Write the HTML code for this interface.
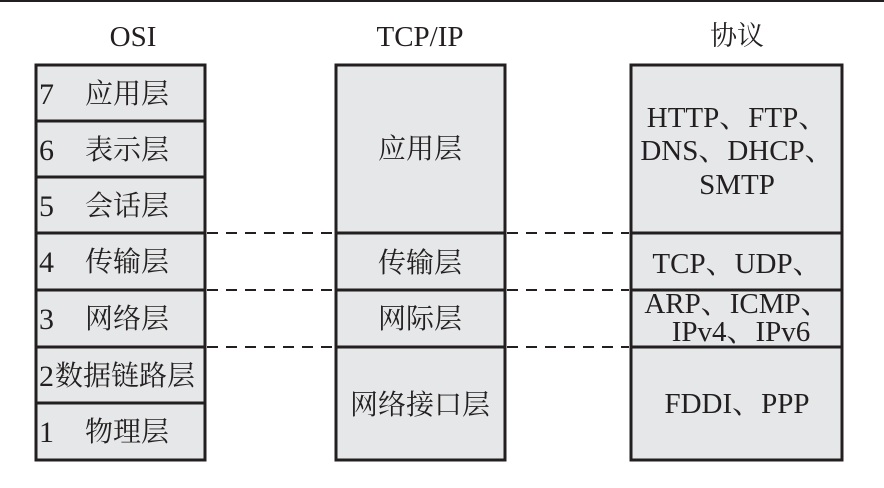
<!DOCTYPE html>
<html><head><meta charset="utf-8"><style>
body{margin:0;background:#fff;}
svg text{font-family:"Liberation Serif","Noto Serif CJK SC",serif;fill:#231f20;}
</style></head><body>
<svg width="884" height="483" viewBox="0 0 884 483" xmlns="http://www.w3.org/2000/svg">
<rect x="0" y="0" width="884" height="2" fill="#231f20"/>
<text x="133" y="46" font-size="29" text-anchor="middle">OSI</text>
<text x="420" y="46" font-size="29" text-anchor="middle">TCP/IP</text>
<text x="737" y="45" font-size="27" text-anchor="middle">协议</text>
<g fill="#e6e7e8" stroke="#231f20" stroke-width="3">
<rect x="36" y="65" width="169" height="395"/>
<rect x="336" y="65" width="169" height="395"/>
<rect x="631" y="65" width="211" height="395"/>
</g>
<g stroke="#231f20" stroke-width="3">
<line x1="36" y1="121" x2="205" y2="121"/>
<line x1="36" y1="177" x2="205" y2="177"/>
<line x1="36" y1="233" x2="205" y2="233"/>
<line x1="36" y1="290" x2="205" y2="290"/>
<line x1="36" y1="347" x2="205" y2="347"/>
<line x1="36" y1="403" x2="205" y2="403"/>
<line x1="336" y1="233" x2="505" y2="233"/>
<line x1="336" y1="290" x2="505" y2="290"/>
<line x1="336" y1="347" x2="505" y2="347"/>
<line x1="631" y1="233" x2="842" y2="233"/>
<line x1="631" y1="290" x2="842" y2="290"/>
<line x1="631" y1="347" x2="842" y2="347"/>
</g>
<g stroke="#231f20" stroke-width="2" stroke-dasharray="11,8">
<line x1="207" y1="233" x2="334" y2="233"/>
<line x1="207" y1="290" x2="334" y2="290"/>
<line x1="207" y1="347" x2="334" y2="347"/>
<line x1="507" y1="233" x2="629" y2="233"/>
<line x1="507" y1="290" x2="629" y2="290"/>
<line x1="507" y1="347" x2="629" y2="347"/>
</g>
<g font-size="30">
<text x="39" y="104">7</text><text x="85" y="103" font-size="28">应用层</text>
<text x="39" y="160">6</text><text x="85" y="159" font-size="28">表示层</text>
<text x="39" y="216">5</text><text x="85" y="215" font-size="28">会话层</text>
<text x="39" y="272">4</text><text x="85" y="271" font-size="28">传输层</text>
<text x="39" y="329">3</text><text x="85" y="328" font-size="28">网络层</text>
<text x="39" y="386">2</text><text x="55" y="385" font-size="28">数据链路层</text>
<text x="39" y="442">1</text><text x="85" y="441" font-size="28">物理层</text>
</g>
<g font-size="28" text-anchor="middle">
<text x="420" y="158">应用层</text>
<text x="420" y="272">传输层</text>
<text x="420" y="328">网际层</text>
<text x="420" y="414">网络接口层</text>
</g>
<g font-size="29" text-anchor="middle">
<text x="737" y="127">HTTP、FTP、</text>
<text x="737" y="160">DNS、DHCP、</text>
<text x="737" y="194">SMTP</text>
<text x="737" y="273">TCP、UDP、</text>
<text x="737" y="313">ARP、ICMP、</text>
<text x="741" y="341">IPv4、IPv6</text>
<text x="737" y="413">FDDI、PPP</text>
</g>
</svg>
</body></html>
